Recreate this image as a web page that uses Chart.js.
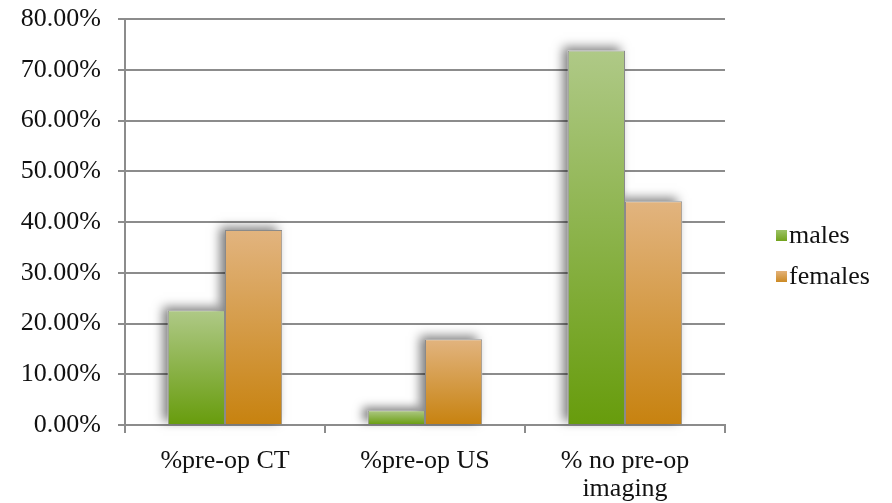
<!DOCTYPE html>
<html>
<head>
<meta charset="utf-8">
<script src="https://cdn.jsdelivr.net/npm/chart.js@4/dist/chart.umd.min.js"></script>
<style>
  html, body { margin: 0; padding: 0; background: #ffffff; }
  #wrap { width: 892px; height: 503px; position: relative; }
</style>
</head>
<body>
<div id="wrap"><canvas id="c" width="892" height="503"></canvas></div>
<script>
// Share of patients by pre-operative imaging, split by sex
const categories = ['%pre-op CT', '%pre-op US', ['% no pre-op', 'imaging']];
const males   = [22.6, 2.9, 73.8];
const females = [38.4, 16.9, 44.1];
const seriesNames = ['males', 'females'];
const yTicks = [0, 10, 20, 30, 40, 50, 60, 70, 80];

const FONT = '"Liberation Serif", "DejaVu Serif", serif';
const GRID = '#8c8c8c';

// vertical gradient per bar: light at the top, saturated at the base
const palettes = [
  { top: '#afc987', bottom: '#679c0c', legend: ['#9cc266', '#72a31c'] },
  { top: '#e2b47f', bottom: '#c7820f', legend: ['#e3b27a', '#cc8a24'] }
];

function barGradient(ctx) {
  const chart = ctx.chart;
  const pal = palettes[ctx.datasetIndex];
  const y = chart.scales && chart.scales.y;
  if (!y || ctx.parsed == null || ctx.raw == null) return pal.bottom;
  const yTop = y.getPixelForValue(ctx.raw);
  const yBase = y.getPixelForValue(0);
  if (!isFinite(yTop) || !isFinite(yBase) || yTop === yBase) return pal.bottom;
  const g = chart.ctx.createLinearGradient(0, yTop, 0, yBase);
  g.addColorStop(0, pal.top);
  g.addColorStop(1, pal.bottom);
  return g;
}

// soft shadow cast up and to the left of every bar, painted before the bars
const barShadow = {
  id: 'barShadow',
  beforeDatasetsDraw(chart) {
    const c = chart.ctx;
    c.save();
    c.shadowColor = 'rgba(0,0,0,0.5)';
    c.shadowBlur = 10;
    c.shadowOffsetX = -5;
    c.shadowOffsetY = -3;
    c.fillStyle = '#ffffff';
    chart.data.datasets.forEach((ds, i) => {
      chart.getDatasetMeta(i).data.forEach(bar => {
        const p = bar.getProps(['x', 'y', 'base', 'width'], true);
        c.fillRect(p.x - p.width / 2, p.y, p.width, p.base - p.y);
      });
    });
    c.restore();
  }
};

// legend on the right: small square swatch followed by the series name
const sideLegend = {
  id: 'sideLegend',
  afterDraw(chart) {
    const c = chart.ctx;
    const area = chart.chartArea;
    const x0 = area.right + 51;
    const mid = (area.top + area.bottom) / 2 + 34;
    const step = 41;
    c.save();
    c.font = '26px ' + FONT;
    c.textBaseline = 'middle';
    c.textAlign = 'left';
    seriesNames.forEach((name, i) => {
      const cy = mid - step / 2 + i * step;
      const pal = palettes[i];
      const g = c.createLinearGradient(0, cy - 5.5, 0, cy + 5.5);
      g.addColorStop(0, pal.legend[0]);
      g.addColorStop(1, pal.legend[1]);
      c.fillStyle = g;
      c.fillRect(x0, cy - 5.5, 11, 11);
      c.fillStyle = '#111111';
      c.fillText(name, x0 + 13, cy + 1);
    });
    c.restore();
  }
};

new Chart(document.getElementById('c'), {
  type: 'bar',
  data: {
    labels: categories,
    datasets: [
      { label: seriesNames[0], data: males,   backgroundColor: barGradient, borderColor: '#8a8a8a', borderWidth: 1 },
      { label: seriesNames[1], data: females, backgroundColor: barGradient, borderColor: '#8a8a8a', borderWidth: 1 }
    ]
  },
  options: {
    responsive: false,
    animation: false,
    devicePixelRatio: 1,
    layout: { padding: { top: 19, right: 167, left: 0, bottom: 0 } },
    datasets: { bar: { categoryPercentage: 0.572, barPercentage: 1.0 } },
    plugins: {
      legend: { display: false },
      tooltip: { enabled: false }
    },
    scales: {
      x: {
        grid: { display: true, drawOnChartArea: false, drawTicks: true, tickLength: 8, color: GRID, lineWidth: 2, offset: true },
        border: { display: true, color: GRID, width: 2 },
        ticks: { color: '#111111', font: { family: FONT, size: 26, lineHeight: '28px' }, padding: 14, maxRotation: 0, autoSkip: false },
        afterFit(scale) { scale.height = 78; scale.paddingLeft = 0; scale.paddingRight = 0; }
      },
      y: {
        min: 0, max: 80,
        afterBuildTicks(scale) { scale.ticks = yTicks.map(v => ({ value: v })); },
        grid: { color: GRID, lineWidth: 2, drawTicks: true, tickLength: 7 },
        border: { display: true, color: GRID, width: 2 },
        ticks: {
          color: '#111111',
          font: { family: FONT, size: 26 },
          padding: 17,
          callback: v => v.toFixed(2) + '%'
        },
        afterFit(scale) { scale.width = 125; scale.paddingTop = 0; scale.paddingBottom = 0; }
      }
    }
  },
  plugins: [barShadow, sideLegend]
});
</script>
</body>
</html>
